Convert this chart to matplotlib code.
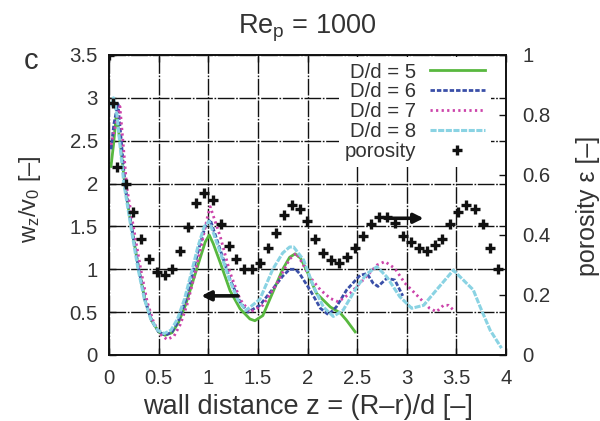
import matplotlib
matplotlib.use('Agg')
import matplotlib.pyplot as plt

plt.rcParams['font.family'] = ['Liberation Sans', 'DejaVu Sans']
plt.rcParams['mathtext.fontset'] = 'custom'
plt.rcParams['mathtext.rm'] = 'Liberation Sans'
plt.rcParams['mathtext.it'] = 'Liberation Sans'

TXT = '#333333'

# velocity profiles w_z/v_0 for the four tube-to-particle ratios
x5 = [0.02, 0.045, 0.075, 0.12, 0.165, 0.23, 0.30, 0.365, 0.43, 0.50, 0.565, 0.635,
      0.70, 0.77, 0.84, 0.91, 0.97, 1.01, 1.05, 1.12, 1.22, 1.32, 1.42, 1.47, 1.55,
      1.65, 1.75, 1.82, 1.875, 1.93, 1.99, 2.09, 2.23, 2.33, 2.39, 2.48]
y5 = [2.2, 2.45, 2.82, 2.4, 1.93, 1.47, 1.0, 0.63, 0.40, 0.27, 0.23, 0.26,
      0.38, 0.58, 0.84, 1.10, 1.32, 1.40, 1.30, 1.08, 0.75, 0.54, 0.42, 0.40, 0.46,
      0.73, 1.0, 1.14, 1.18, 1.13, 0.99, 0.72, 0.56, 0.49, 0.41, 0.27]

x6 = [0.02, 0.05, 0.09, 0.12, 0.165, 0.23, 0.30, 0.365, 0.43, 0.50, 0.565, 0.635,
      0.70, 0.77, 0.84, 0.905, 0.97, 1.02, 1.12, 1.22, 1.32, 1.40, 1.52, 1.65, 1.75,
      1.82, 1.88, 1.92, 2.025, 2.13, 2.21, 2.29, 2.395, 2.53, 2.60, 2.66, 2.71, 2.80,
      2.88, 2.96]
y6 = [2.4, 2.7, 2.93, 2.55, 1.95, 1.48, 1.0, 0.63, 0.40, 0.27, 0.23, 0.27,
      0.40, 0.63, 0.94, 1.24, 1.50, 1.58, 1.23, 0.88, 0.62, 0.50, 0.58, 0.77, 0.92,
      1.0, 1.0, 0.95, 0.76, 0.545, 0.47, 0.56, 0.76, 0.93, 0.95, 0.84, 0.80, 0.895,
      0.875, 0.69]

x7 = [0.02, 0.06, 0.11, 0.14, 0.18, 0.25, 0.32, 0.385, 0.45, 0.52, 0.585, 0.655,
      0.72, 0.79, 0.86, 0.925, 0.99, 1.02, 1.12, 1.22, 1.32, 1.42, 1.55, 1.68, 1.82,
      1.89, 2.025, 2.13, 2.23, 2.31, 2.43, 2.56, 2.70, 2.78, 2.88, 2.98, 3.10, 3.23,
      3.30, 3.37, 3.42, 3.47]
y7 = [2.45, 2.65, 2.90, 2.5, 1.95, 1.47, 1.0, 0.62, 0.38, 0.24, 0.18, 0.22,
      0.36, 0.60, 0.92, 1.25, 1.60, 1.73, 1.385, 0.96, 0.65, 0.50, 0.58, 0.81, 1.12,
      1.19, 0.91, 0.76, 0.66, 0.62, 0.72, 0.875, 1.05, 1.09, 1.01, 0.84, 0.70, 0.545,
      0.505, 0.58, 0.58, 0.525]

x8 = [0.02, 0.045, 0.08, 0.15, 0.22, 0.29, 0.355, 0.42, 0.49, 0.555, 0.625, 0.69,
      0.76, 0.83, 0.895, 0.96, 1.01, 1.12, 1.22, 1.30, 1.38, 1.52, 1.65, 1.75, 1.82,
      1.86, 1.96, 2.06, 2.16, 2.26, 2.36, 2.50, 2.60, 2.70, 2.80, 2.93, 3.05, 3.17,
      3.30, 3.47, 3.60, 3.67, 3.74, 3.84, 3.955]
y8 = [2.9, 3.0, 2.8, 2.0, 1.5, 1.02, 0.66, 0.42, 0.29, 0.25, 0.29, 0.42,
      0.65, 0.96, 1.26, 1.50, 1.56, 1.20, 0.86, 0.64, 0.52, 0.65, 1.0, 1.19, 1.26,
      1.26, 1.11, 0.80, 0.56, 0.45, 0.525, 0.80, 0.95, 1.03, 0.91, 0.68, 0.545, 0.58,
      0.76, 0.99, 0.84, 0.76, 0.56, 0.29, 0.08]

# radial porosity (right axis)
zp = [0.0, 0.04, 0.083, 0.168, 0.245, 0.325, 0.406, 0.487, 0.561, 0.635, 0.719,
      0.80, 0.88, 0.96, 1.045, 1.125, 1.21, 1.283, 1.364, 1.445, 1.525, 1.60, 1.68,
      1.76, 1.84, 1.924, 1.998, 2.08, 2.156, 2.24, 2.32, 2.395, 2.48, 2.56, 2.636,
      2.717, 2.797, 2.878, 2.96, 3.04, 3.12, 3.20, 3.28, 3.36, 3.44, 3.52, 3.60,
      3.685, 3.765, 3.84, 3.915]
eps = [1.0, 0.841, 0.628, 0.570, 0.478, 0.388, 0.319, 0.276, 0.267, 0.287, 0.346,
       0.428, 0.508, 0.539, 0.518, 0.437, 0.364, 0.319, 0.288, 0.288, 0.307, 0.357,
       0.408, 0.468, 0.499, 0.488, 0.447, 0.388, 0.339, 0.317, 0.307, 0.326, 0.357,
       0.397, 0.437, 0.461, 0.461, 0.44, 0.397, 0.376, 0.356, 0.346, 0.367, 0.387,
       0.437, 0.478, 0.499, 0.488, 0.437, 0.357, 0.288]

fig = plt.figure(figsize=(6, 4.21), dpi=100)
ax = fig.add_axes([109 / 600, 66 / 421, 397 / 600, 300 / 421])
ax2 = ax.twinx()

l5, = ax.plot(x5, y5, color='#58b83f', lw=2.0, label='D/d = 5')
l6, = ax.plot(x6, y6, color='#3a4fa8', lw=2.0, ls=(0, (1.6, 0.7)), label='D/d = 6')
l7, = ax.plot(x7, y7, color='#cc44aa', lw=2.0, ls=(0, (0.8, 1.2)), label='D/d = 7')
l8, = ax.plot(x8, y8, color='#8ad3e3', lw=2.2, ls=(0, (2.0, 0.5)), label='D/d = 8')

pp, = ax2.plot(zp, eps, ls='none', marker='+', ms=7, mew=2.4, color='#111111',
               label='porosity')

# arrows showing which axis belongs to which data
arr = dict(arrowstyle='-|>', lw=2.6, color='#111111', mutation_scale=14,
           shrinkA=0, shrinkB=0)
ax.annotate('', xy=(0.93, 0.69), xytext=(1.30, 0.69), arrowprops=arr)
ax.annotate('', xy=(3.17, 1.595), xytext=(2.78, 1.595), arrowprops=arr)

ax.set_xlim(0, 4)
ax.set_ylim(0, 3.5)
ax2.set_ylim(0, 1)
ax.set_xticks([0, 0.5, 1, 1.5, 2, 2.5, 3, 3.5, 4])
ax.set_xticklabels(['0', '0.5', '1', '1.5', '2', '2.5', '3', '3.5', '4'])
ax.set_yticks([0, 0.5, 1, 1.5, 2, 2.5, 3, 3.5])
ax.set_yticklabels(['0', '0.5', '1', '1.5', '2', '2.5', '3', '3.5'])
ax2.set_yticks([0, 0.2, 0.4, 0.6, 0.8, 1])
ax2.set_yticklabels(['0', '0.2', '0.4', '0.6', '0.8', '1'])

ax.grid(True, color='#111111', lw=1.0, ls=(0, (12, 1.2, 1.2, 1.2)))
ax.set_axisbelow(True)

ax.tick_params(direction='in', length=5, width=1, top=True, labelsize=14.7,
               colors='#111111', labelcolor=TXT)
ax.tick_params(axis='y', pad=8)
ax.tick_params(axis='x', pad=10)
ax2.tick_params(direction='in', length=5, width=1, labelsize=14.7,
                colors='#111111', labelcolor=TXT, pad=12)
for a in (ax, ax2):
    for s in a.spines.values():
        s.set_linewidth(1.2)
        s.set_color('#111111')

ax.set_xlabel('wall distance z = (R\u2013r)/d [\u2013]', fontsize=19.5, color=TXT)
ax.xaxis.set_label_coords(0.5, -0.13)
ax.set_ylabel('w$_\\mathregular{z}$/v$_\\mathregular{0}$ [\u2013]', fontsize=17, color=TXT)
ax.yaxis.set_label_coords(-0.166, 0.52)
ax2.set_ylabel('porosity \u03b5 [\u2013]', fontsize=18, color=TXT)
ax2.yaxis.set_label_coords(1.176, 0.497)

fig.text(307 / 600, 1 - 33 / 421, 'Re$_\\mathregular{p}$ = 1000', fontsize=19.5,
         ha='center', va='baseline', color=TXT)
fig.text(31 / 600, 1 - 61 / 421, 'c', fontsize=21, ha='center', va='center',
         color=TXT)

leg = ax2.legend(handles=[l5, l6, l7, l8, pp], loc='upper right',
                 bbox_to_anchor=(0.962, 0.995), borderaxespad=0, borderpad=0.3,
                 markerfirst=False, fontsize=14.7, labelspacing=0.04,
                 handlelength=2.7, handletextpad=0.65, numpoints=1,
                 fancybox=False, framealpha=1, facecolor='white',
                 edgecolor='none')
for t in leg.get_texts():
    t.set_color(TXT)

fig.savefig('out.png', dpi=100)
